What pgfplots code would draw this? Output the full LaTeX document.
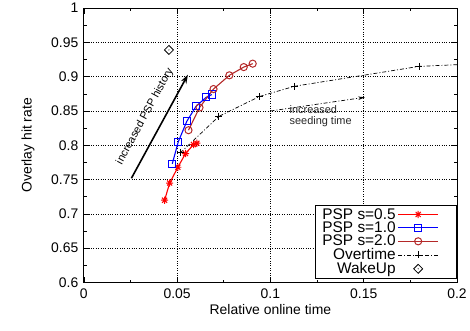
\documentclass[border=0pt]{standalone}
\usepackage{fontspec}
\setmainfont{Liberation Sans}
\usepackage{pgfplots}
\pgfplotsset{compat=1.18}
\usetikzlibrary{arrows.meta}

\pgfdeclareplotmark{gstar}{%
 \pgfpathmoveto{\pgfqpoint{-\pgfplotmarksize}{0pt}}\pgfpathlineto{\pgfqpoint{\pgfplotmarksize}{0pt}}%
 \pgfpathmoveto{\pgfqpoint{0pt}{-\pgfplotmarksize}}\pgfpathlineto{\pgfqpoint{0pt}{\pgfplotmarksize}}%
 \pgfpathmoveto{\pgfqpoint{-.707\pgfplotmarksize}{-.707\pgfplotmarksize}}\pgfpathlineto{\pgfqpoint{.707\pgfplotmarksize}{.707\pgfplotmarksize}}%
 \pgfpathmoveto{\pgfqpoint{-.707\pgfplotmarksize}{.707\pgfplotmarksize}}\pgfpathlineto{\pgfqpoint{.707\pgfplotmarksize}{-.707\pgfplotmarksize}}%
 \pgfusepathqstroke}
\pgfdeclareplotmark{ddiamond}{%
 \pgfpathmoveto{\pgfqpoint{0pt}{\pgfplotmarksize}}%
 \pgfpathlineto{\pgfqpoint{\pgfplotmarksize}{0pt}}%
 \pgfpathlineto{\pgfqpoint{0pt}{-\pgfplotmarksize}}%
 \pgfpathlineto{\pgfqpoint{-\pgfplotmarksize}{0pt}}%
 \pgfpathclose\pgfusepathqstroke
 \pgfpathcircle{\pgfpointorigin}{0.6pt}\pgfusepathqfill}

\definecolor{pspred}{RGB}{255,0,0}
\definecolor{pspblue}{RGB}{0,0,255}
\definecolor{pspbrown}{RGB}{180,40,40}

\pgfplotsset{
 mylegimg/.style={legend image code/.code={%
   \draw[mark repeat=2,mark phase=2] plot coordinates {(0bp,0bp)(20bp,0bp)(40bp,0bp)};
   \path (53bp,0bp);}}
}

\begin{document}
\begin{tikzpicture}
\begin{axis}[
 scale only axis, width=374bp, height=275bp,
 xmin=0, xmax=0.2, ymin=0.6, ymax=1,
 xtick={0,0.05,0.1,0.15,0.2}, xticklabels={0,0.05,0.1,0.15,0.2},
 ytick={0.6,0.65,0.7,0.75,0.8,0.85,0.9,0.95,1},
 yticklabels={0.6,0.65,0.7,0.75,0.8,0.85,0.9,0.95,1},
 minor x tick num=1, minor y tick num=1,
 tick align=inside, major tick length=6bp, minor tick length=3bp,
 grid=major, major grid style={black, dotted, line width=0.7pt},
 axis line style={line width=0.8pt}, tick style={black, line width=0.6pt},
 xlabel={Relative online time}, ylabel={Overlay hit rate},
 label style={font=\fontsize{14}{16}\selectfont},
 tick label style={font=\fontsize{14}{16}\selectfont},
 xticklabel style={yshift=-3bp}, yticklabel style={xshift=-2bp},
 xlabel style={yshift=1bp}, ylabel style={yshift=10bp},
 legend style={at={(1,0)}, anchor=south east, yshift=4bp, draw=black, line width=0.8pt,
   fill=white, font=\fontsize{15.5}{15}\selectfont, row sep=-2.8pt, inner xsep=5pt, inner ysep=1pt,
   cells={anchor=east}},
 legend cell align=right, legend plot pos=right,
 mylegimg,
]
\addplot[pspred, line width=1.1pt, mark=gstar, mark size=3.6pt, mark options={line width=1pt}]
 coordinates {(0.0433,0.720)(0.046,0.745)(0.0504,0.768)(0.0545,0.788)(0.0588,0.801)(0.0606,0.803)};
\addlegendentry{PSP s=0.5}
\addplot[pspblue, line width=1.1pt, mark=square, mark size=3.6pt, mark options={line width=1pt, fill=none}]
 coordinates {(0.0474,0.773)(0.0506,0.805)(0.0552,0.835)(0.0602,0.857)(0.0656,0.870)(0.0686,0.874)};
\addlegendentry{PSP s=1.0}
\addplot[pspbrown, line width=1.1pt, mark=o, mark size=3.6pt, mark options={line width=1pt, fill=none}]
 coordinates {(0.0561,0.822)(0.062,0.855)(0.0695,0.882)(0.078,0.902)(0.0857,0.914)(0.0905,0.919)};
\addlegendentry{PSP s=2.0}
\addplot[black, line width=0.7pt, dash pattern=on 4pt off 2pt on 1pt off 2pt, mark=+, mark size=3.5pt,
 mark options={solid, line width=0.8pt}]
 coordinates {(0.0517,0.789)(0.0723,0.842)(0.094,0.871)(0.1128,0.886)(0.1796,0.915)(0.26,0.925)};
\addlegendentry{Overtime}
\addplot[black, only marks, mark=ddiamond, mark size=4.5pt, mark options={line width=0.8pt}]
 coordinates {(0.0456,0.939)};
\addlegendentry{WakeUp}

\draw[black, line width=1.6pt, -{Stealth[length=9pt,width=6pt]}] (axis cs:0.0255,0.752) -- (axis cs:0.0558,0.903);
\node[rotate=61.5, font=\fontsize{11}{12}\selectfont] at (axis cs:0.0328,0.842) {increased PSP history};
\draw[black, line width=0.7pt, dash pattern=on 4pt off 2pt on 1pt off 2pt, -{Stealth[length=7pt,width=3.5pt]}]
 (axis cs:0.1,0.85) -- (axis cs:0.1507,0.870);
\node[anchor=west, align=left, font=\fontsize{11}{11}\selectfont, text=black!85, inner sep=0pt] at (axis cs:0.1102,0.8427) {increased\\seeding time};
\coordinate (ll) at (rel axis cs:0,0);
\coordinate (ur) at (rel axis cs:1,1);
\end{axis}
\path (ll) ++(-84bp,-48bp);
\path (ur) ++(12bp,7.3bp);
\end{tikzpicture}
\end{document}
